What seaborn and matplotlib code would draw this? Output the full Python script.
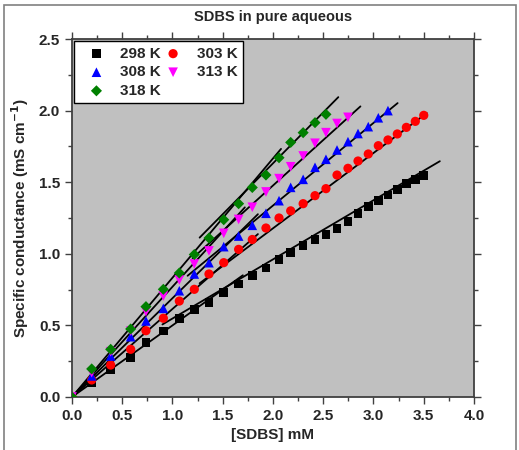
import matplotlib
matplotlib.use("Agg")
import matplotlib.pyplot as plt
import numpy as np
import pandas as pd
import seaborn as sns
from matplotlib.patches import Rectangle
from matplotlib.ticker import MultipleLocator

# concentration grid, mM
conc = [0, 0.196, 0.385, 0.584, 0.736, 0.909, 1.068, 1.217, 1.363, 1.51, 1.658,
        1.794, 1.93, 2.06, 2.176, 2.3, 2.418, 2.527, 2.637, 2.746, 2.846, 2.948,
        3.048, 3.144, 3.237, 3.327, 3.416, 3.50]

k298 = [0, 0.10, 0.189, 0.277, 0.379, 0.461, 0.55, 0.612, 0.661, 0.731, 0.789,
        0.85, 0.9, 0.959, 1.01, 1.057, 1.10, 1.136, 1.178, 1.227, 1.28, 1.329,
        1.371, 1.41, 1.45, 1.49, 1.52, 1.545]
k303 = [0, 0.119, 0.223, 0.333, 0.463, 0.55, 0.67, 0.752, 0.859, 0.938, 1.031,
        1.10, 1.18, 1.25, 1.30, 1.35, 1.406, 1.455, 1.55, 1.597, 1.648, 1.697,
        1.755, 1.795, 1.837, 1.883, 1.925, 1.967]
k308 = [0, 0.147, 0.286, 0.421, 0.531, 0.619, 0.742, 0.859, 0.938, 1.05, 1.124,
        1.199, 1.283, 1.371, 1.464, 1.52, 1.604, 1.66, 1.725, 1.783, 1.84, 1.888,
        1.95, 2.0]
k313 = [0, 0.17, 0.316, 0.46, 0.596, 0.705, 0.817, 0.929, 1.02, 1.143, 1.24,
        1.325, 1.432, 1.525, 1.608, 1.683, 1.772, 1.846, 1.91, 1.953]
k318 = [0, 0.196, 0.333, 0.475, 0.631, 0.752, 0.866, 0.995, 1.11, 1.238, 1.35,
        1.463, 1.55, 1.671, 1.778, 1.846, 1.916, 1.974]

temps = ["298 K", "303 K", "308 K", "313 K", "318 K"]
series = [k298, k303, k308, k313, k318]

# linear fits below / above the CMC: slope, intercept, x range
pre_slope = [0.50, 0.615, 0.69, 0.77, 0.833]
pre_end = [1.70, 1.85, 1.85, 1.72, 2.08]
post_slope = [0.413, 0.526, 0.577, 0.635, 0.711]
post_icpt = [0.135, 0.126, 0.183, 0.207, 0.21]
post_start = [0.9, 1.27, 1.15, 1.2, 1.27]
post_end = [3.66, 3.53, 3.24, 2.87, 2.65]

colors = {"298 K": "black", "303 K": "red", "308 K": "blue",
          "313 K": "magenta", "318 K": "#008000"}
markers = {"298 K": "s", "303 K": "o", "308 K": "^", "313 K": "v", "318 K": "D"}
sizes = {"298 K": 38, "303 K": 44, "308 K": 48, "313 K": 48, "318 K": 32}

rows = []
for t, ys in zip(temps, series):
    for xv, yv in zip(conc, ys):
        rows.append((t, xv, yv))
df = pd.DataFrame(rows, columns=["T", "c", "k"])

sns.set_style("ticks")
plt.rcParams["font.family"] = ["Liberation Sans", "DejaVu Sans"]
plt.rcParams["font.weight"] = "bold"

fig = plt.figure(figsize=(5.19, 4.5), dpi=100)
fig.patches.append(Rectangle((0.008, -0.01), 0.986, 1.0, transform=fig.transFigure,
                             fill=False, edgecolor="#808080", linewidth=1.2))
ax = fig.add_axes([0.1387, 0.1178, 0.7746, 0.7955])
ax.set_facecolor("#C0C0C0")

# fit lines
for i in range(len(temps)):
    xa = np.array([0, pre_end[i]])
    ax.plot(xa, pre_slope[i] * xa, color="black", lw=1.3, zorder=2)
    xb = np.array([post_start[i], post_end[i]])
    ax.plot(xb, post_slope[i] * xb + post_icpt[i], color="black", lw=1.3, zorder=2)

for t in temps:
    d = df[df["T"] == t]
    sns.scatterplot(data=d, x="c", y="k", ax=ax, color=colors[t], marker=markers[t],
                    s=sizes[t], edgecolor="none", label=t, zorder=3)

ax.set_xlim(0, 4.0)
ax.set_ylim(0, 2.5)
ax.xaxis.set_major_locator(MultipleLocator(0.5))
ax.xaxis.set_minor_locator(MultipleLocator(0.25))
ax.yaxis.set_major_locator(MultipleLocator(0.5))
ax.yaxis.set_minor_locator(MultipleLocator(0.25))
ax.tick_params(which="both", direction="out", top=True, right=True,
               labeltop=False, labelright=False, color="#404040")
ax.tick_params(which="major", length=5, width=1, labelsize=11)
ax.tick_params(which="minor", length=3, width=1)
for lab in ax.get_xticklabels() + ax.get_yticklabels():
    lab.set_fontweight("bold")
for sp in ax.spines.values():
    sp.set_visible(True)
    sp.set_color("#404040")
    sp.set_linewidth(1.3)

ax.set_title("SDBS in pure aqueous", fontsize=10.5, fontweight="bold", pad=13)
ax.set_xlabel("[SDBS] mM", fontsize=11, fontweight="bold")
ax.set_ylabel("Specific conductance (mS cm$^{\\mathbf{-1}}$)", fontsize=11,
              fontweight="bold", labelpad=6)

handles, labels = ax.get_legend_handles_labels()
order = [0, 2, 4, 1, 3]
leg = ax.legend([handles[i] for i in order], [labels[i] for i in order], ncol=2,
                loc="upper left", bbox_to_anchor=(0.0, 1.0), frameon=True,
                fancybox=False, edgecolor="black", framealpha=1,
                prop={"weight": "bold", "size": 11}, handlelength=2.2,
                handletextpad=0.45, columnspacing=-0.3, borderpad=0.35,
                labelspacing=0.3, borderaxespad=0.15)
leg.get_frame().set_linewidth(1.0)

fig.savefig("out.png", dpi=100)
